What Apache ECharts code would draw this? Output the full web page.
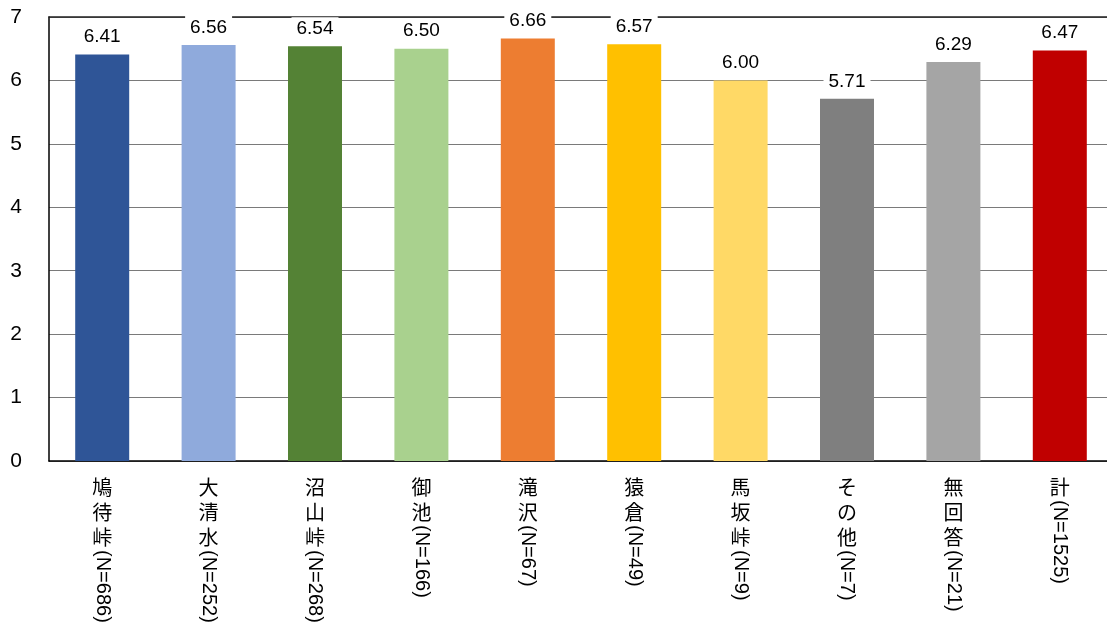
<!DOCTYPE html>
<html>
<head>
<meta charset="utf-8">
<script src="https://cdn.jsdelivr.net/npm/echarts@6/dist/echarts.min.js"></script>
<style>
  html, body { margin: 0; padding: 0; background: #fff; }
  #chart { width: 1107px; height: 626px; }
</style>
</head>
<body>
<div id="chart"></div>
<script>
var categories = ['鳩待峠', '大清水', '沼山峠', '御池', '滝沢', '猿倉', '馬坂峠', 'その他', '無回答', '計'];
var sampleN = [686, 252, 268, 166, 67, 49, 9, 7, 21, 1525];
var values = [6.41, 6.56, 6.54, 6.50, 6.66, 6.57, 6.00, 5.71, 6.29, 6.47];
var barColors = ['#2F5597', '#8FAADC', '#548235', '#A9D18E', '#ED7D31', '#FFC000', '#FFD966', '#7F7F7F', '#A5A5A5', '#C00000'];
var yTicks = [0, 1, 2, 3, 4, 5, 6, 7];

var chart = echarts.init(document.getElementById('chart'));

// 縦書きラベル用のスペーサ（漢字の段数ぶん）
var rich = {};
for (var i = 1; i <= 3; i++) {
    rich['s' + i] = { width: i * 25, fontSize: 20 };
}
rich.t = { fontSize: 20, fontFamily: 'Liberation Sans', color: '#000' };

var option = {
    animation: false,
    grid: { left: 49, top: 17, width: 1064, height: 444, outerBoundsMode: 'none' },
    xAxis: [
        {
            type: 'category',
            data: categories,
            position: 'bottom',
            axisLine: { lineStyle: { color: '#000', width: 1.5 } },
            axisTick: { show: false },
            axisLabel: {
                interval: 0,
                margin: 14,
                fontSize: 20,
                lineHeight: 25,
                fontFamily: 'Noto Sans CJK JP',
                color: '#000',
                verticalAlign: 'top',
                formatter: function (v) { return v.split('').join('\n'); }
            }
        },
        {
            type: 'category',
            data: categories,
            position: 'bottom',
            axisLine: { show: false },
            axisTick: { show: false },
            axisLabel: {
                interval: 0,
                rotate: -90,
                margin: 14,
                rich: rich,
                formatter: function (v, idx) {
                    return '{s' + v.length + '| }{t|(N=' + sampleN[idx] + ')}';
                }
            }
        },
        {
            type: 'category',
            data: categories,
            position: 'top',
            axisLine: { lineStyle: { color: '#222', width: 1.5 } },
            axisTick: { show: false },
            axisLabel: { show: false }
        }
    ],
    yAxis: {
        type: 'value',
        min: yTicks[0],
        max: yTicks[yTicks.length - 1],
        interval: 1,
        axisLine: { show: true, lineStyle: { color: '#000', width: 1.5 } },
        axisTick: { show: false },
        splitLine: { lineStyle: { color: '#7a7a7a', width: 1.2 } },
        axisLabel: {
            margin: 27,
            fontSize: 21,
            fontFamily: 'Liberation Sans',
            color: '#000'
        }
    },
    series: [
        {
            type: 'bar',
            xAxisIndex: 0,
            barWidth: 54,
            data: values.map(function (v, i) {
                return { value: v, itemStyle: { color: barColors[i] } };
            }),
            label: {
                show: true,
                position: 'top',
                distance: 6,
                fontSize: 19,
                fontFamily: 'Liberation Sans',
                color: '#000',
                backgroundColor: '#fff',
                padding: [2, 5],
                formatter: function (p) { return p.value.toFixed(2); }
            }
        }
    ]
};

chart.setOption(option);
</script>
</body>
</html>
